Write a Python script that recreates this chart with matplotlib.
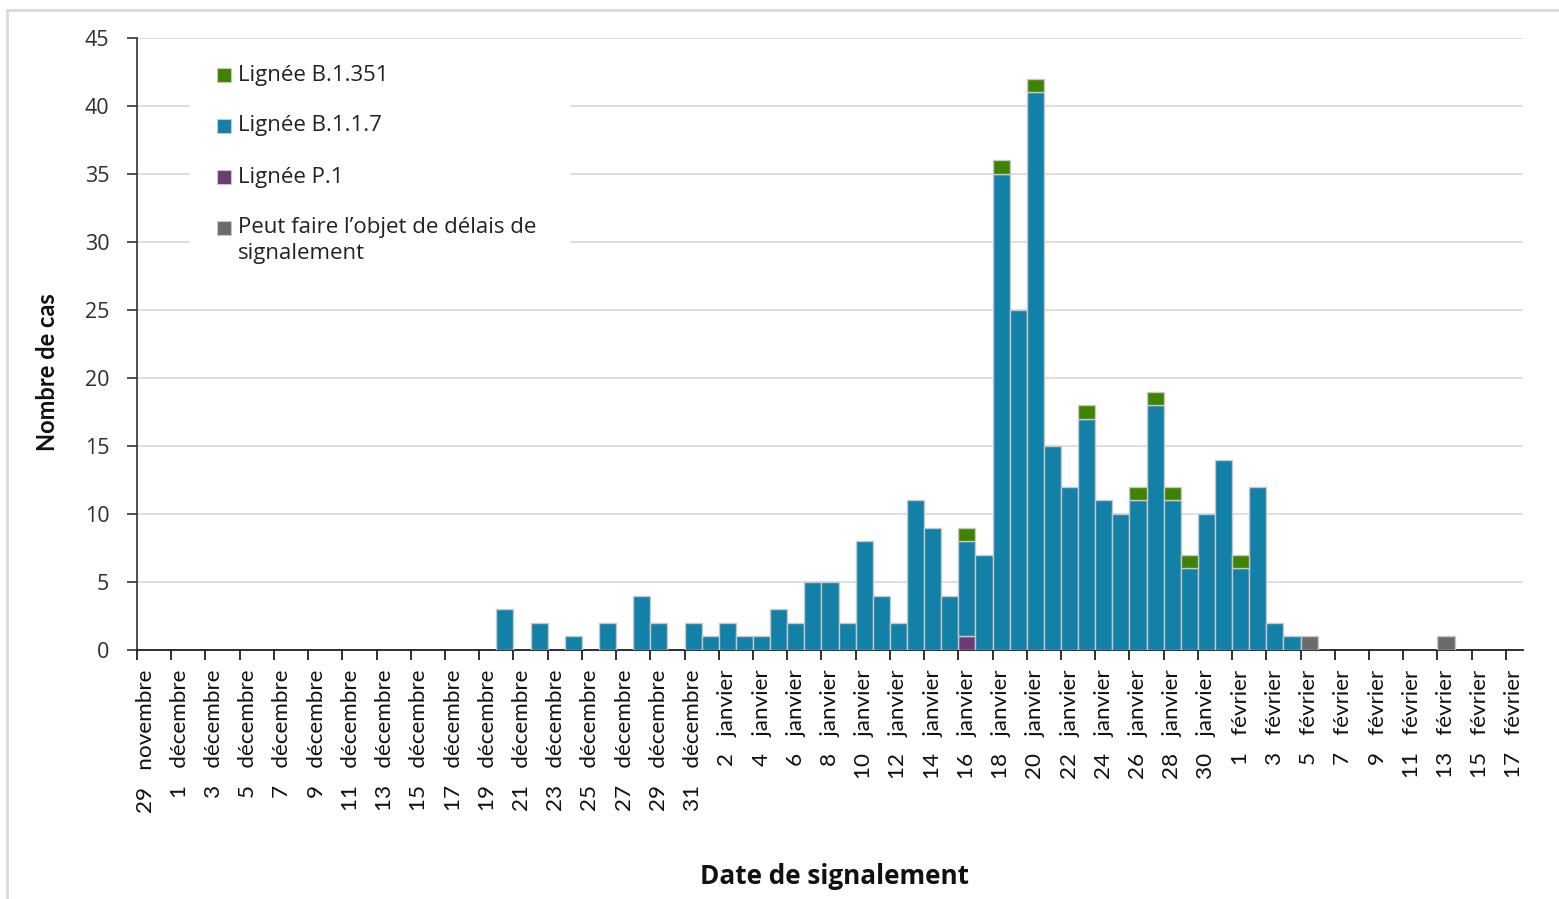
import matplotlib
matplotlib.use("Agg")
import matplotlib.pyplot as plt
from matplotlib.patches import Rectangle
import numpy as np

# ---------------- data ----------------
tick_labels = [
    "29 novembre",
    "1 décembre", "3 décembre", "5 décembre", "7 décembre", "9 décembre",
    "11 décembre", "13 décembre", "15 décembre", "17 décembre", "19 décembre",
    "21 décembre", "23 décembre", "25 décembre", "27 décembre", "29 décembre",
    "31 décembre",
    "2 janvier", "4 janvier", "6 janvier", "8 janvier", "10 janvier",
    "12 janvier", "14 janvier", "16 janvier", "18 janvier", "20 janvier",
    "22 janvier", "24 janvier", "26 janvier", "28 janvier", "30 janvier",
    "1 février", "3 février", "5 février", "7 février", "9 février",
    "11 février", "13 février", "15 février", "17 février",
]

# one value per day, 29 novembre -> 17 février (81 days)
lignee_b117 = [
    0, 0, 0, 0, 0, 0, 0, 0, 0, 0,      # 29 nov - 8 déc
    0, 0, 0, 0, 0, 0, 0, 0, 0, 0,      # 9 déc - 18 déc
    0, 3, 0, 2, 0, 1, 0, 2, 0, 4,      # 19 déc - 28 déc
    2, 0, 2, 1, 2, 1, 1, 3, 2, 5,      # 29 déc - 7 jan
    5, 2, 8, 4, 2, 11, 9, 4, 7, 7,     # 8 jan - 17 jan
    35, 25, 41, 15, 12, 17, 11, 10, 11, 18,  # 18 jan - 27 jan
    11, 6, 10, 14, 6, 12, 2, 1, 0, 0,  # 28 jan - 6 fév
    0, 0, 0, 0, 0, 0, 0, 0, 0, 0,      # 7 fév - 16 fév
    0,                                 # 17 fév
]
lignee_b1351 = [
    0, 0, 0, 0, 0, 0, 0, 0, 0, 0,
    0, 0, 0, 0, 0, 0, 0, 0, 0, 0,
    0, 0, 0, 0, 0, 0, 0, 0, 0, 0,
    0, 0, 0, 0, 0, 0, 0, 0, 0, 0,
    0, 0, 0, 0, 0, 0, 0, 0, 1, 0,
    1, 0, 1, 0, 0, 1, 0, 0, 1, 1,
    1, 1, 0, 0, 1, 0, 0, 0, 0, 0,
    0, 0, 0, 0, 0, 0, 0, 0, 0, 0,
    0,
]
lignee_p1 = [
    0, 0, 0, 0, 0, 0, 0, 0, 0, 0,
    0, 0, 0, 0, 0, 0, 0, 0, 0, 0,
    0, 0, 0, 0, 0, 0, 0, 0, 0, 0,
    0, 0, 0, 0, 0, 0, 0, 0, 0, 0,
    0, 0, 0, 0, 0, 0, 0, 0, 1, 0,
    0, 0, 0, 0, 0, 0, 0, 0, 0, 0,
    0, 0, 0, 0, 0, 0, 0, 0, 0, 0,
    0, 0, 0, 0, 0, 0, 0, 0, 0, 0,
    0,
]
delais = [
    0, 0, 0, 0, 0, 0, 0, 0, 0, 0,
    0, 0, 0, 0, 0, 0, 0, 0, 0, 0,
    0, 0, 0, 0, 0, 0, 0, 0, 0, 0,
    0, 0, 0, 0, 0, 0, 0, 0, 0, 0,
    0, 0, 0, 0, 0, 0, 0, 0, 0, 0,
    0, 0, 0, 0, 0, 0, 0, 0, 0, 0,
    0, 0, 0, 0, 0, 0, 0, 0, 1, 0,
    0, 0, 0, 0, 0, 0, 1, 0, 0, 0,
    0,
]

series_labels = ["Lignée B.1.351", "Lignée B.1.1.7", "Lignée P.1",
                 "Peut faire l\u2019objet de délais de\nsignalement"]

# ---------------- style ----------------
C_GREEN = "#3F8400"
C_BLUE = "#1280A7"
C_PURPLE = "#6C3A74"
C_GREY = "#6A6B6F"
C_EDGE = "#C8C8C8"
series_colors = [C_GREEN, C_BLUE, C_PURPLE, C_GREY]

W, H, DPI = 1559, 899, 100
fig = plt.figure(figsize=(W / DPI, H / DPI), dpi=DPI)
fig.patch.set_facecolor("white")


def fx(px):
    return px / W


def fy(py):
    return 1 - py / H


L, R, T, B = 137, 1523, 38, 650
ax = fig.add_axes([fx(L), fy(B), (R - L) / W, (B - T) / H])

n = len(lignee_b117)
x = np.arange(n)
p1 = np.array(lignee_p1, float)
b117 = np.array(lignee_b117, float)
b1351 = np.array(lignee_b1351, float)
dl = np.array(delais, float)


def draw(vals, bottom, color):
    m = vals > 0
    ax.bar(x[m], vals[m], bottom=bottom[m], width=1.0, color=color,
           edgecolor=C_EDGE, linewidth=1.0, zorder=3)


zero = np.zeros(n)
draw(p1, zero, C_PURPLE)
draw(b117, p1, C_BLUE)
draw(b1351, p1 + b117, C_GREEN)
draw(dl, p1 + b117 + b1351, C_GREY)

ax.set_xlim(-0.5, n - 0.5)
ax.set_ylim(0, 45)
ax.set_yticks(np.arange(0, 46, 5))
ax.yaxis.grid(True, color="#D9D9D9", linewidth=1.2, zorder=0)
ax.set_axisbelow(True)

for s in ["top", "right"]:
    ax.spines[s].set_visible(False)
ax.spines["left"].set_color("#404040")
ax.spines["left"].set_linewidth(1.3)
ax.spines["bottom"].set_color("#202020")
ax.spines["bottom"].set_linewidth(1.3)

# x ticks: marks at pair boundaries, labels on every other day
shown_labels = [lab.replace(" ", "   ", 1) for lab in tick_labels]
ax.set_xticks(np.arange(-0.5, n - 1, 2))
ax.set_xticklabels([])
ax.set_xticks(np.arange(0, n, 2), minor=True)
ax.set_xticklabels(shown_labels, minor=True, rotation=90, ha="center",
                   va="top", family="Lato", fontsize=16.2, color="#111111")
ax.tick_params(axis="x", which="major", length=7, width=1.3, color="#202020",
               direction="out")
ax.tick_params(axis="x", which="minor", length=0, pad=14)
ax.tick_params(axis="y", length=7, width=1.3, color="#404040", pad=13,
               labelsize=15.5, labelcolor="#2E2E2E")
for lab in ax.get_yticklabels():
    lab.set_family("Open Sans")

# legend: white panel hiding gridlines, square keys, labels
ax.add_patch(Rectangle((fx(190), fy(280)), (570 - 190) / W, (280 - 48) / H,
                       transform=fig.transFigure, facecolor="white",
                       edgecolor="none", zorder=1))
row_y = [75, 126, 177, 228]
for yc, lab, col in zip(row_y, series_labels, series_colors):
    ax.add_patch(Rectangle((fx(217), fy(yc + 7)), 14 / W, 14 / H,
                           transform=fig.transFigure, facecolor=col,
                           edgecolor=C_EDGE, linewidth=0.8, zorder=5,
                           clip_on=False))
    for k, line in enumerate(lab.split("\n")):
        fig.text(fx(238), fy(yc + 26 * k), line, ha="left", va="center",
                 family="Open Sans", fontsize=16, color="#222222")

fig.text(fx(48), fy(372), "Nombre de cas", rotation=90, ha="center",
         va="center", family="Lato", fontweight="bold", fontsize=17,
         color="#111111")
fig.text(fx(834), fy(876), "Date de signalement", ha="center",
         va="center", family="Open Sans", fontweight="bold", fontsize=18.8,
         color="#111111")

# outer chart frame
fig.patches.append(Rectangle((fx(7), -0.2), 2.0, 1.2 - 10 / H,
                             transform=fig.transFigure, fill=False,
                             edgecolor="#D9D9D9", linewidth=2.0))

fig.savefig("out.png", dpi=DPI, facecolor="white")
